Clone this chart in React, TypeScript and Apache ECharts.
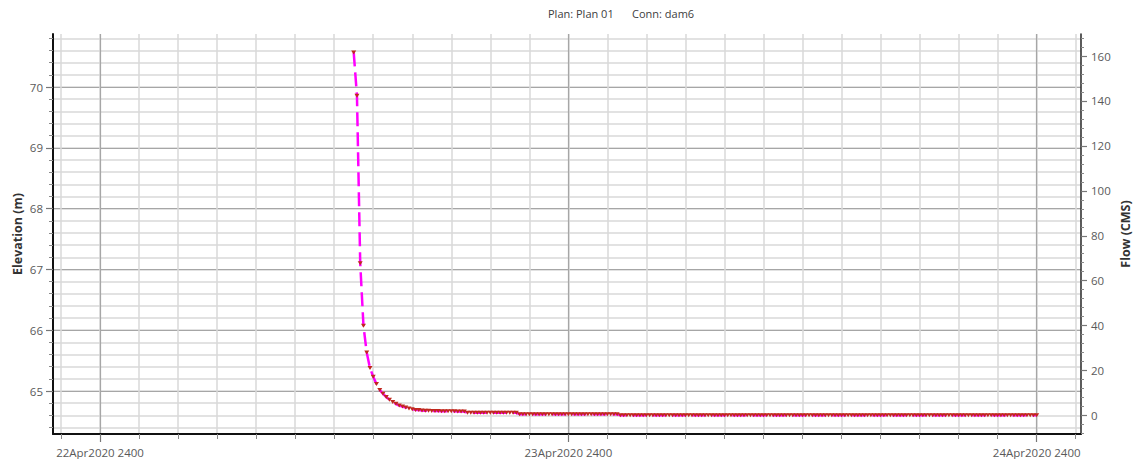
import { useEffect, useRef } from 'react';
import * as echarts from 'echarts';

// Time is counted in hours from 22Apr2020 2400; flow is output every 10 minutes.
const FIRST_HOUR = 13;
const STEP_HOURS = 1 / 6;

// Connection flow (CMS) at dam6, one value per output step.
const FLOW = [
  161.6, 142.3, 67.8, 39.9, 28.0, 21.1, 17.3, 14.0, 11.4, 9.7,
  8.2, 7.0, 6.0, 5.2, 4.4, 4.0, 3.6, 3.1, 2.8, 2.5,
  2.4, 2.2, 2.1, 2.1, 2.0, 2.0, 2.0, 1.9, 1.9, 1.9,
  1.9, 1.9, 1.8, 1.8, 1.8, 1.2, 1.2, 1.2, 1.2, 1.2,
  1.2, 1.2, 1.2, 1.2, 1.2, 1.2, 1.2, 1.2, 1.2, 1.2,
  1.2, 0.6, 0.6, 0.6, 0.6, 0.6, 0.6, 0.6, 0.6, 0.6,
  0.6, 0.6, 0.6, 0.6, 0.6, 0.6, 0.6, 0.6, 0.6, 0.6,
  0.6, 0.6, 0.6, 0.6, 0.6, 0.6, 0.6, 0.6, 0.6, 0.6,
  0.6, 0.6, 0.1, 0.1, 0.1, 0.1, 0.1, 0.1, 0.1, 0.1,
  0.1, 0.1, 0.1, 0.1, 0.1, 0.1, 0.1, 0.1, 0.1, 0.1,
  0.1, 0.1, 0.1, 0.1, 0.1, 0.1, 0.1, 0.1, 0.1, 0.1,
  0.1, 0.1, 0.1, 0.1, 0.1, 0.1, 0.1, 0.1, 0.1, 0.1,
  0.1, 0.1, 0.1, 0.1, 0.1, 0.1, 0.1, 0.1, 0.1, 0.1,
  0.1, 0.1, 0.1, 0.1, 0.1, 0.1, 0.1, 0.1, 0.1, 0.1,
  0.1, 0.1, 0.1, 0.1, 0.1, 0.1, 0.1, 0.1, 0.1, 0.1,
  0.1, 0.1, 0.1, 0.1, 0.1, 0.1, 0.1, 0.1, 0.1, 0.1,
  0.1, 0.1, 0.1, 0.1, 0.1, 0.1, 0.1, 0.1, 0.1, 0.1,
  0.1, 0.1, 0.1, 0.1, 0.1, 0.1, 0.1, 0.1, 0.1, 0.1,
  0.1, 0.1, 0.1, 0.1, 0.1, 0.1, 0.1, 0.1, 0.1, 0.1,
  0.1, 0.1, 0.1, 0.1, 0.1, 0.1, 0.1, 0.1, 0.1, 0.1,
  0.1, 0.1, 0.1, 0.1, 0.1, 0.1, 0.1, 0.1, 0.1, 0.1,
  0.1,
];

const DAY_TICKS = [0, 24, 48];
const DAY_LABELS = ['22Apr2020 2400', '23Apr2020 2400', '24Apr2020 2400'];
const ELEV_TICKS = [65, 66, 67, 68, 69, 70];
const FLOW_TICKS = [0, 20, 40, 60, 80, 100, 120, 140, 160];

const X_MIN = -2.41;
const X_MAX = 50.27;
const ELEV_MIN = 64.293;
const ELEV_MAX = 70.872;
const FLOW_MIN = -8.23;
const FLOW_MAX = 169.8;

function steps(from: number, to: number, step: number): number[] {
  const out: number[] = [];
  for (let v = from; v <= to + 1e-9; v += step) out.push(Math.round(v * 100) / 100);
  return out;
}

const HOUR_TICKS = steps(-2, 50, 2);
const ELEV_MINOR = steps(64.4, 70.8, 0.2);
const FLOW_MINOR = steps(-8, 168, 4);

const FONT = '"Open Sans", "Noto Sans", sans-serif';
const LABEL_COLOR = '#5a5a5a';

export default function App() {
  const ref = useRef<HTMLDivElement>(null);

  useEffect(() => {
    if (!ref.current) return;
    const chart = echarts.init(ref.current, undefined, { renderer: 'svg' });

    const minorGrid = { show: true, lineStyle: { color: '#d8d8d8', width: 1.5 } };
    const majorGrid = { show: true, lineStyle: { color: '#a6a6a6', width: 1.2 } };

    chart.setOption({
      animation: false,
      grid: { left: 53, right: 53, top: 34, bottom: 25, containLabel: false, outerBoundsMode: 'none' },
      graphic: [
        { type: 'text', left: 548, top: 8, style: { text: 'Plan: Plan 01', font: `11px ${FONT}`, fill: '#404040' } },
        { type: 'text', left: 632, top: 8, style: { text: 'Conn: dam6', font: `11px ${FONT}`, fill: '#404040' } },
        {
          type: 'text', x: 17, y: 234, rotation: Math.PI / 2,
          style: { text: 'Elevation (m)', font: `bold 12.5px ${FONT}`, fill: '#333', align: 'center', verticalAlign: 'middle' },
        },
        {
          type: 'text', x: 1125, y: 234, rotation: Math.PI / 2,
          style: { text: 'Flow (CMS)', font: `bold 12.5px ${FONT}`, fill: '#333', align: 'center', verticalAlign: 'middle' },
        },
      ],
      xAxis: [
        {
          type: 'value', min: X_MIN, max: X_MAX, position: 'bottom',
          axisLine: { show: true, onZero: false, lineStyle: { color: '#111', width: 2 } },
          axisTick: { show: true, customValues: HOUR_TICKS, length: 5, lineStyle: { color: '#8a8a8a', width: 1 } },
          axisLabel: { show: false },
          splitLine: minorGrid,
        },
        {
          type: 'value', min: X_MIN, max: X_MAX, position: 'bottom',
          axisLine: { show: false, onZero: false },
          axisTick: { show: true, customValues: DAY_TICKS, length: 8, lineStyle: { color: '#777', width: 1.2 } },
          axisLabel: {
            show: true, customValues: DAY_TICKS, margin: 12, color: LABEL_COLOR, fontSize: 11.5, fontFamily: FONT,
            formatter: (v: number) => DAY_LABELS[DAY_TICKS.indexOf(Math.round(v))] ?? '',
          },
          splitLine: majorGrid,
        },
      ],
      yAxis: [
        {
          type: 'value', min: ELEV_MIN, max: ELEV_MAX, position: 'left',
          axisLine: { show: true, onZero: false, lineStyle: { color: '#111', width: 2 } },
          axisTick: { show: true, customValues: ELEV_MINOR, length: 4, lineStyle: { color: '#8a8a8a', width: 1 } },
          axisLabel: { show: false },
          splitLine: minorGrid,
        },
        {
          type: 'value', min: ELEV_MIN, max: ELEV_MAX, position: 'left',
          axisLine: { show: false, onZero: false },
          axisTick: { show: true, customValues: ELEV_TICKS, length: 7, lineStyle: { color: '#777', width: 1.2 } },
          axisLabel: {
            show: true, customValues: ELEV_TICKS, margin: 10, color: LABEL_COLOR, fontSize: 11.5, fontFamily: FONT,
            formatter: (v: number) => String(Math.round(v)),
          },
          splitLine: majorGrid,
        },
        {
          type: 'value', min: FLOW_MIN, max: FLOW_MAX, position: 'right',
          axisLine: { show: true, onZero: false, lineStyle: { color: '#333', width: 1.6 } },
          axisTick: { show: true, customValues: FLOW_MINOR, length: 3, lineStyle: { color: '#8a8a8a', width: 1 } },
          axisLabel: { show: false },
          splitLine: { show: false },
        },
        {
          type: 'value', min: FLOW_MIN, max: FLOW_MAX, position: 'right',
          axisLine: { show: false, onZero: false },
          axisTick: { show: true, customValues: FLOW_TICKS, length: 6, lineStyle: { color: '#777', width: 1.2 } },
          axisLabel: {
            show: true, customValues: FLOW_TICKS, margin: 10, color: LABEL_COLOR, fontSize: 11.5, fontFamily: FONT,
            formatter: (v: number) => String(Math.round(v)),
          },
          splitLine: { show: false },
        },
      ],
      series: [
        {
          name: 'Flow',
          type: 'line',
          xAxisIndex: 0,
          yAxisIndex: 3,
          data: FLOW.map((f, i) => [FIRST_HOUR + i * STEP_HOURS, f]),
          symbol: 'triangle',
          symbolRotate: 180,
          symbolSize: [5, 4],
          showSymbol: true,
          lineStyle: { color: '#ff00ff', width: 2.5, type: [14, 6] },
          itemStyle: { color: '#c0281e' },
          z: 5,
        },
      ],
    });

    return () => chart.dispose();
  }, []);

  return (
    <div
      ref={ref}
      style={{ position: 'fixed', left: 0, top: 0, width: 1134, height: 459, background: '#fff' }}
    />
  );
}
